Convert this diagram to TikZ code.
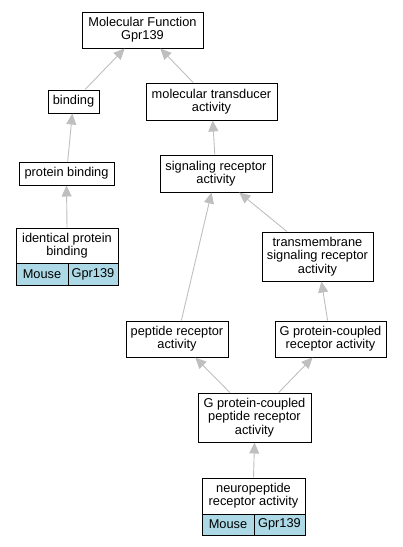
\documentclass[tikz,border=0pt]{standalone}
\usepackage{fontspec}
\setmainfont{Liberation Sans}
\usetikzlibrary{arrows.meta}
\definecolor{lightblue}{HTML}{ADD8E6}
\begin{document}
\begin{tikzpicture}[x=1pt,y=-1pt,
    goTerm/.style={draw=black,line width=1pt,fill=white,inner sep=0pt,align=center,
      font=\fontsize{12.8}{13.3}\selectfont},
    goCell/.style={goTerm,fill=lightblue},
    goEdge/.style={draw=black!25,line width=0.9pt,-{Triangle[length=11pt,width=10pt]}},
]
\useasboundingbox (0,0) rectangle (403,547);
% terms
\node[goTerm,minimum width=121pt,minimum height=36pt] (mf) at (142.5,30) {Molecular Function\\Gpr139};
\node[goTerm,minimum width=51pt,minimum height=23pt] (bind) at (73.5,101.5) {binding};
\node[goTerm,minimum width=131pt,minimum height=37pt] (mtrans) at (211.5,101.5) {molecular transducer\\activity};
\node[goTerm,minimum width=95pt,minimum height=23pt] (pbind) at (66.5,173.5) {protein binding};
\node[goTerm,minimum width=112pt,minimum height=37pt] (sigrec) at (216,173.5) {signaling receptor\\activity};
\node[goTerm,minimum width=102pt,minimum height=35pt] (idbind) at (67,245.5) {identical protein\\binding};
\node[goCell,minimum width=52pt,minimum height=22pt] (idbindA) at (42,274) {Mouse};
\node[goCell,minimum width=50pt,minimum height=22pt] (idbindB) at (93,274) {Gpr139};
\node[goTerm,minimum width=111pt,minimum height=49pt] (tmsig) at (317.5,256.5) {transmembrane\\signaling receptor\\activity};
\node[goTerm,minimum width=102pt,minimum height=36pt] (peprec) at (177,339) {peptide receptor\\activity};
\node[goTerm,minimum width=111pt,minimum height=36pt] (gpcr) at (330.5,339) {G protein-coupled\\receptor activity};
\node[goTerm,minimum width=113pt,minimum height=49pt] (gpcrpep) at (254.5,417.5) {G protein-coupled\\peptide receptor\\activity};
\node[goTerm,minimum width=103pt,minimum height=36pt] (neurorec) at (253.5,496) {neuropeptide\\receptor activity};
\node[goCell,minimum width=52pt,minimum height=21pt] (neurorecA) at (228,524.5) {Mouse};
\node[goCell,minimum width=51pt,minimum height=21pt] (neurorecB) at (279.5,524.5) {Gpr139};
% is_a edges
\draw[goEdge] (bind) -- (mf);
\draw[goEdge] (mtrans) -- (mf);
\draw[goEdge] (pbind) -- (bind);
\draw[goEdge] (sigrec) -- (mtrans);
\draw[goEdge] (idbind.north) -- (pbind.south);
\draw[goEdge] (tmsig) -- (sigrec);
\draw[goEdge] (peprec) -- (sigrec);
\draw[goEdge] (gpcr) -- (tmsig);
\draw[goEdge] (gpcrpep) -- (peprec);
\draw[goEdge] (gpcrpep) -- (gpcr);
\draw[goEdge] (neurorec.north) -- (gpcrpep.south);
\end{tikzpicture}
\end{document}
